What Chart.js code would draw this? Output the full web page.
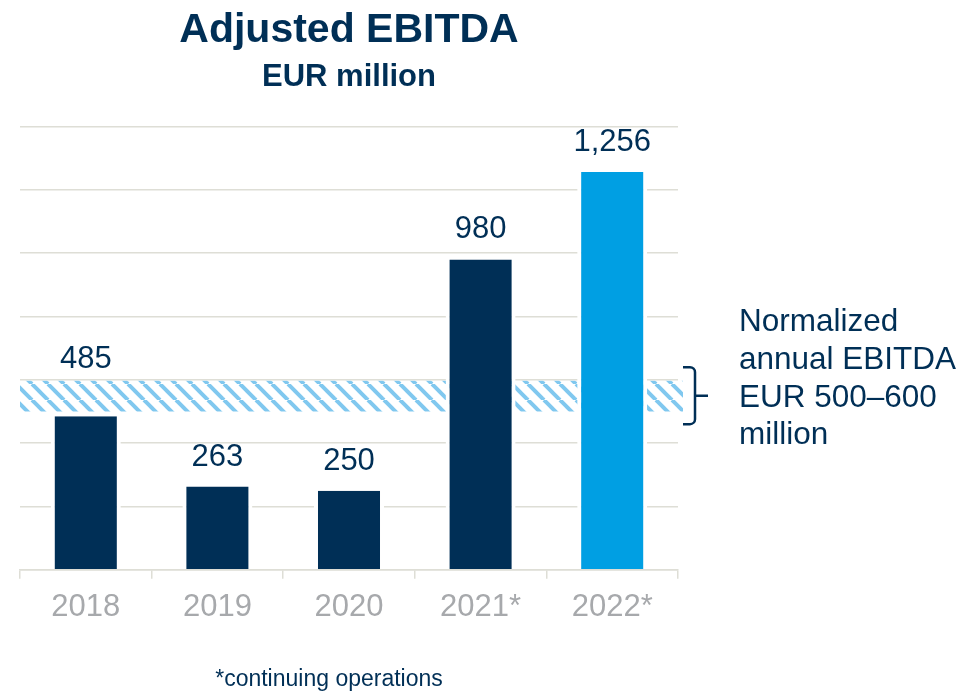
<!DOCTYPE html>
<html>
<head>
<meta charset="utf-8">
<title>Adjusted EBITDA</title>
<script src="https://cdn.jsdelivr.net/npm/chart.js@4/dist/chart.umd.min.js"></script>
<style>
    html, body { margin: 0; padding: 0; background: #fff; }
    #wrap { position: relative; width: 969px; height: 693px; }
</style>
</head>
<body>
<div id="wrap"><canvas id="ebitda"></canvas></div>
<script>
const years = ['2018', '2019', '2020', '2021*', '2022*'];
const ebitda = [485, 263, 250, 980, 1256];
const normalizedRange = [500, 600];
const axisMax = 1400;
const axisStep = 200;
const footnote = '*continuing operations';

const NAVY = '#002f56';
const BRIGHT = '#009fe3';
const HATCH = '#80c8ef';
const GRID = '#deded6';
const GREY_TEXT = '#a7a9ac';
const FONT = "'Liberation Sans', Arial, sans-serif";

function hatchPattern() {
    const tile = document.createElement('canvas');
    tile.width = 16;
    tile.height = 16;
    const c = tile.getContext('2d');
    c.strokeStyle = HATCH;
    c.lineWidth = 4;
    [-16, 0, 16].forEach((k) => {
        c.beginPath();
        c.moveTo(k, 0);
        c.lineTo(k + 16, 16);
        c.stroke();
    });
    return c.createPattern(tile, 'repeat');
}

// hatched band for the normalized range, sits behind the bars
const normalizedBand = {
    id: 'normalizedBand',
    beforeDatasetsDraw(chart) {
        const {ctx, chartArea, scales: {y}} = chart;
        const top = y.getPixelForValue(normalizedRange[1]);
        const bottom = y.getPixelForValue(normalizedRange[0]);
        ctx.save();
        ctx.fillStyle = hatchPattern();
        ctx.fillRect(chartArea.left, top + 1, chartArea.right - chartArea.left + 5, bottom - top - 1);
        ctx.restore();
    },
    afterDraw(chart) {
        const {ctx, chartArea, scales: {y}} = chart;
        const top = y.getPixelForValue(normalizedRange[1]);
        const bottom = y.getPixelForValue(normalizedRange[0]);
        const mid = (top + bottom) / 2;
        const x0 = chartArea.right + 5;
        const x1 = x0 + 12;
        const half = 28.5;
        const r = 5;

        ctx.save();
        ctx.strokeStyle = NAVY;
        ctx.lineWidth = 2.5;
        ctx.beginPath();
        ctx.moveTo(x0, mid - half);
        ctx.arcTo(x1, mid - half, x1, mid - half + r, r);
        ctx.lineTo(x1, mid + half - r);
        ctx.arcTo(x1, mid + half, x0, mid + half, r);
        ctx.lineTo(x0, mid + half);
        ctx.moveTo(x1, mid);
        ctx.lineTo(x1 + 13, mid);
        ctx.stroke();

        const lines = ['Normalized', 'annual EBITDA', 'EUR ' + normalizedRange[0] + '–' + normalizedRange[1], 'million'];
        ctx.fillStyle = NAVY;
        ctx.font = '31.5px ' + FONT;
        ctx.textAlign = 'left';
        ctx.textBaseline = 'alphabetic';
        lines.forEach((line, i) => {
            ctx.fillText(line, chartArea.right + 61, mid - 64.5 + i * 37.7);
        });

        ctx.font = '23px ' + FONT;
        ctx.textAlign = 'center';
        ctx.fillText(footnote, (chartArea.left + chartArea.right) / 2 - 20, 686);
        ctx.restore();
    }
};

// value above each bar, lifted over the band when it would run into it
const valueLabels = {
    id: 'valueLabels',
    afterDatasetsDraw(chart) {
        const {ctx, scales: {y}} = chart;
        const bandTop = y.getPixelForValue(normalizedRange[1]);
        const bandBottom = y.getPixelForValue(normalizedRange[0]);
        const meta = chart.getDatasetMeta(0);

        ctx.save();
        ctx.fillStyle = NAVY;
        ctx.font = '31px ' + FONT;
        ctx.textAlign = 'center';
        ctx.textBaseline = 'alphabetic';
        meta.data.forEach((bar, i) => {
            let baseline = bar.y - 21;
            if (baseline > bandTop && baseline - 23 < bandBottom) {
                baseline = bandTop - 11.5;
            }
            ctx.fillText(ebitda[i].toLocaleString('en-US'), bar.x, baseline);
        });
        ctx.restore();
    }
};

new Chart(document.getElementById('ebitda'), {
    type: 'bar',
    data: {
        labels: years,
        datasets: [{
            data: ebitda,
            backgroundColor: (ctx) => ctx.dataIndex === years.length - 1 ? BRIGHT : NAVY,
            borderColor: '#ffffff',
            borderWidth: {left: 4, right: 4, top: 0, bottom: 0},
            borderSkipped: false,
            barPercentage: 0.532,
            categoryPercentage: 1
        }]
    },
    options: {
        responsive: true,
        maintainAspectRatio: false,
        animation: false,
        layout: {
            padding: {left: 20, right: 291, top: 0, bottom: 57}
        },
        plugins: {
            legend: {display: false},
            tooltip: {enabled: false},
            title: {
                display: true,
                text: 'Adjusted EBITDA',
                color: NAVY,
                font: {family: FONT, size: 41, weight: 'bold'},
                padding: {top: 6.2, bottom: 0}
            },
            subtitle: {
                display: true,
                text: 'EUR million',
                color: NAVY,
                font: {family: FONT, size: 31, weight: 'bold'},
                padding: {top: 3.3, bottom: 30.6}
            }
        },
        scales: {
            x: {
                grid: {
                    drawOnChartArea: false,
                    drawTicks: true,
                    tickLength: 9,
                    color: GRID,
                    lineWidth: 1.5
                },
                border: {display: true, color: GRID, width: 1.5},
                ticks: {
                    color: GREY_TEXT,
                    font: {family: FONT, size: 31},
                    padding: 10
                }
            },
            y: {
                min: 0,
                max: axisMax,
                ticks: {display: false, stepSize: axisStep},
                grid: {color: GRID, lineWidth: 1.5, drawTicks: false},
                border: {display: false}
            }
        }
    },
    plugins: [normalizedBand, valueLabels]
});
</script>
</body>
</html>
